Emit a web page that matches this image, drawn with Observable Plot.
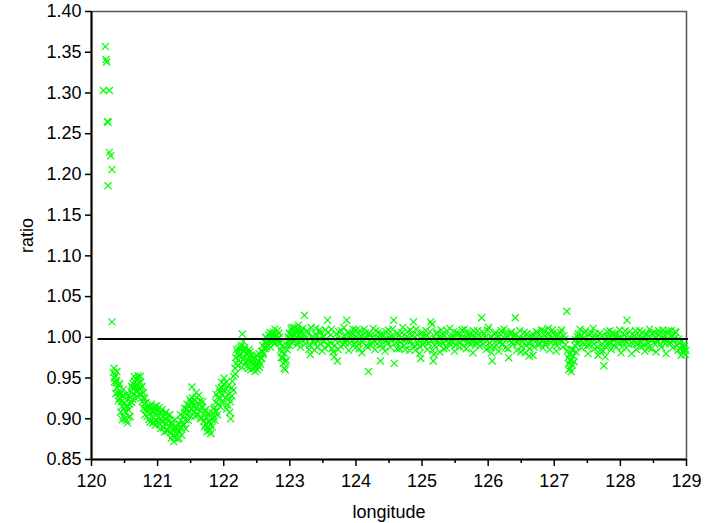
<!DOCTYPE html>
<html>
<head>
<meta charset="utf-8">
<script src="https://cdn.jsdelivr.net/npm/d3@7"></script>
<script src="https://cdn.jsdelivr.net/npm/@observablehq/plot@0.6"></script>
<style>
  html, body { margin: 0; padding: 0; background: #fff; }
  #chart { width: 717px; height: 523px; }
</style>
</head>
<body>
<div id="chart"></div>
<script>
// ---- data (longitude, ratio) ----
const spikePts = [
  [120.21,1.357],[120.22,1.341],[120.23,1.338],[120.18,1.303],[120.27,1.303],
  [120.24,1.265],[120.25,1.264],[120.27,1.227],[120.29,1.223],[120.31,1.206],
  [120.25,1.186],[120.31,1.019]
];
const troughPts = [
  [120.33,0.957],[120.34,0.962],[120.35,0.950],[120.36,0.953],[120.37,0.944],[120.38,0.947],[120.39,0.938],[120.40,0.932],
  [120.41,0.941],[120.42,0.925],[120.43,0.930],[120.44,0.908],[120.45,0.921],[120.46,0.915],[120.47,0.928],[120.48,0.903],
  [120.49,0.913],[120.50,0.920],[120.51,0.909],[120.52,0.930],[120.53,0.898],[120.54,0.916],[120.55,0.924],[120.56,0.911],
  [120.57,0.902],[120.58,0.918],[120.59,0.926],[120.60,0.933],[120.61,0.920],[120.62,0.938],[120.63,0.943],[120.64,0.930],
  [120.65,0.946],[120.66,0.939],[120.67,0.934],[120.68,0.948],[120.69,0.942],[120.70,0.927],[120.71,0.950],[120.72,0.944],
  [120.73,0.936],[120.74,0.952],[120.75,0.938],[120.76,0.930],[120.77,0.921],[120.78,0.926],[120.79,0.913],[120.80,0.918],
  [120.81,0.905],[120.82,0.911],[120.84,0.903],[120.85,0.909],[120.87,0.899],[120.88,0.907],[120.90,0.912],[120.91,0.902],
  [120.93,0.908],[120.94,0.896],[120.96,0.915],[120.97,0.904],[120.99,0.898],[121.00,0.910],[121.02,0.903],[121.03,0.893],
  [121.05,0.908],[121.06,0.897],[121.08,0.902],[121.09,0.889],[121.11,0.906],[121.12,0.894],[121.14,0.899],[121.15,0.886],
  [121.17,0.904],[121.18,0.891],[121.20,0.883],[121.21,0.896],[121.23,0.880],[121.24,0.889],[121.26,0.877],[121.27,0.887],
  [121.29,0.882],[121.30,0.875],[121.32,0.893],[121.33,0.884],[121.35,0.898],[121.36,0.889],[121.38,0.903],[121.39,0.894],
  [121.41,0.908],[121.42,0.899],[121.44,0.912],[121.45,0.905],[121.47,0.916],[121.48,0.909],[121.50,0.921],[121.51,0.912],
  [121.52,0.939],[121.53,0.918],[121.55,0.908],[121.56,0.923],[121.58,0.913],[121.59,0.926],[121.61,0.905],[121.62,0.919],
  [121.64,0.910],[121.65,0.922],[121.67,0.901],[121.68,0.914],[121.70,0.897],[121.71,0.908],[121.73,0.893],[121.74,0.902],
  [121.76,0.889],[121.77,0.897],[121.79,0.886],[121.80,0.893],[121.82,0.899],[121.83,0.907],[121.85,0.902],[121.86,0.914],
  [121.88,0.920],[121.89,0.909],[121.91,0.926],[121.92,0.918],[121.94,0.933],[121.95,0.925],[121.97,0.938],[121.98,0.929],
  [122.00,0.942],[122.01,0.934],[122.03,0.926],[122.04,0.945],[122.06,0.917],[122.07,0.930],[122.09,0.908],[122.10,0.921],
  [122.12,0.938],[122.13,0.946],[122.15,0.952]
];
const troughExtra = [
  [120.345,0.945],[120.365,0.931],[120.385,0.958],[120.405,0.922],[120.425,0.943],[120.445,0.932],[120.465,0.899],[120.485,0.936],
  [120.505,0.900],[120.525,0.915],[120.545,0.895],[120.565,0.928],[120.585,0.903],[120.605,0.940],[120.625,0.924],[120.645,0.952],
  [120.665,0.925],[120.685,0.935],[120.705,0.953],[120.725,0.930],[120.745,0.945],[120.765,0.940],[120.785,0.932],[120.805,0.925],
  [120.825,0.920],[120.845,0.915],[120.865,0.913],[120.885,0.896],[120.905,0.918],[120.925,0.895],[120.945,0.911],[120.965,0.892],
  [120.985,0.916],[121.005,0.896],[121.025,0.914],[121.045,0.888],[121.065,0.911],[121.085,0.897],[121.105,0.884],[121.125,0.908],
  [121.145,0.885],[121.165,0.897],[121.185,0.905],[121.205,0.876],[121.225,0.893],[121.245,0.872],[121.265,0.899],[121.285,0.890],
  [121.305,0.887],[121.325,0.876],[121.345,0.905],[121.365,0.880],[121.385,0.892],[121.405,0.913],[121.425,0.888],[121.445,0.918],
  [121.465,0.898],[121.485,0.924],[121.505,0.903],[121.525,0.926],[121.545,0.916],[121.565,0.903],[121.585,0.932],[121.605,0.915],
  [121.625,0.929],[121.645,0.900],[121.665,0.915],[121.685,0.921],[121.705,0.890],[121.725,0.911],[121.745,0.884],[121.765,0.906],
  [121.785,0.897],[121.805,0.882],[121.825,0.890],[121.845,0.912],[121.865,0.898],[121.885,0.930],[121.905,0.905],[121.925,0.937],
  [121.945,0.915],[121.965,0.945],[121.985,0.920],[122.005,0.950],[122.025,0.937],[122.045,0.912],[122.065,0.940],[122.085,0.925],
  [122.105,0.900],[122.125,0.928],[122.145,0.935]
];
const risePts = [
  [122.17,0.962],[122.18,0.975],[122.19,0.968],[122.21,0.981],[122.22,0.972],[122.23,0.986],[122.24,0.977],[122.26,0.969],
  [122.27,0.990],[122.28,1.004],[122.29,0.983],[122.31,0.975],[122.32,0.988],[122.33,0.970],[122.35,0.980],[122.36,0.965],
  [122.38,0.985],[122.39,0.972],[122.41,0.960],[122.42,0.978],[122.44,0.967],[122.45,0.962],[122.47,0.974],[122.48,0.964],
  [122.50,0.968],[122.51,0.960],[122.53,0.971],[122.54,0.963],[122.56,0.975],[122.57,0.983],[122.59,0.990],[122.60,0.979],
  [122.62,0.994],[122.63,0.986],[122.65,0.999],[122.66,0.992],[122.68,1.003],[122.69,0.995],[122.71,0.988],[122.72,1.001],
  [122.74,0.996],[122.75,1.006],[122.77,0.992],[122.78,1.002],[122.80,0.997],[122.81,1.008],[122.83,0.994],[122.84,1.000],
  [122.86,0.985],[122.87,0.975],[122.89,0.990],[122.90,0.968],[122.92,0.980],[122.93,0.960],[122.95,0.972],[122.96,0.985],
  [122.98,0.995],[122.99,1.005],[123.01,0.998],[123.02,1.010],[123.04,0.993],[123.05,1.003],[123.07,1.012],[123.08,0.997],
  [123.10,1.006],[123.11,0.991],[123.13,1.015],[123.14,1.002],[123.16,0.988],[123.17,1.009],[123.19,0.996]
];
const riseExtra = [
  [122.175,0.955],[122.195,0.985],[122.215,0.965],[122.235,0.978],[122.255,0.988],[122.275,0.963],[122.295,0.995],[122.315,0.985],
  [122.335,0.980],[122.355,0.972],[122.375,0.962],[122.395,0.982],[122.415,0.970],[122.435,0.975],[122.455,0.969],[122.475,0.958],
  [122.495,0.978],[122.515,0.966],[122.535,0.980],[122.555,0.967],[122.575,0.974],[122.595,0.982],[122.615,0.987],[122.635,1.000],
  [122.655,0.988],[122.675,0.996],[122.695,1.006],[122.715,0.998],[122.735,1.004],[122.755,0.995],[122.775,1.010],[122.795,1.003],
  [122.815,0.998],[122.835,1.005],[122.855,0.993],[122.875,0.982],[122.895,0.975],[122.915,0.962],[122.935,0.970],[122.955,0.990],
  [122.975,1.000],[122.995,0.990],[123.015,1.004],[123.035,1.012],[123.055,0.996],[123.075,1.003],[123.095,0.999],[123.115,1.010],
  [123.135,0.995],[123.155,1.005],[123.175,0.999],[123.195,1.011]
];
const plateauPts = [
  [123.21,1.004],[123.22,1.027],[123.24,0.992],[123.26,1.008],[123.29,0.985],[123.31,0.979],[123.34,1.001],[123.36,0.994],
  [123.39,1.011],[123.41,0.988],[123.44,0.998],[123.46,1.006],[123.49,0.983],[123.51,0.995],[123.54,1.009],[123.57,1.021],
  [123.59,0.990],[123.62,1.003],[123.64,0.986],[123.67,0.976],[123.69,0.997],[123.72,0.971],[123.74,1.007],[123.77,0.989],
  [123.79,0.999],[123.82,1.012],[123.84,0.993],[123.86,1.021],[123.89,0.984],[123.91,1.004],[123.94,0.996],[123.96,1.010],
  [123.99,0.987],[124.01,1.001],[124.04,0.992],[124.06,1.008],[124.09,0.981],[124.11,0.998],[124.14,1.005],[124.16,0.990],
  [124.19,0.958],[124.21,1.002],[124.24,0.994],[124.26,1.011],[124.29,0.985],[124.31,0.999],[124.34,1.006],[124.37,0.971],
  [124.39,0.991],[124.42,1.003],[124.44,0.983],[124.47,0.996],[124.49,1.009],[124.52,0.988],[124.54,1.001],[124.57,1.021],
  [124.58,0.968],[124.61,0.993],[124.63,1.005],[124.66,0.986],[124.68,0.999],[124.71,1.012],[124.73,0.990],[124.76,0.997],
  [124.78,1.007],[124.81,0.984],[124.83,0.995],[124.86,1.003],[124.87,1.019],[124.89,0.989],[124.91,1.010],[124.94,0.992],
  [124.96,0.980],[124.98,0.974],[125.01,1.001],[125.03,0.994],[125.06,1.008],[125.08,0.985],[125.11,0.999],[125.13,1.019],
  [125.15,1.016],[125.17,0.971],[125.19,0.990],[125.22,1.004],[125.24,0.996],[125.27,0.982],[125.29,1.009],[125.32,0.993],
  [125.34,1.002],[125.37,0.987],[125.39,0.998],[125.42,1.011],[125.44,0.991],[125.47,1.000],[125.49,0.983],[125.52,1.006],
  [125.54,0.995],[125.57,0.988],[125.59,1.003],[125.62,0.997],[125.64,1.010],[125.67,0.986],[125.69,0.999],[125.72,1.005],
  [125.74,0.992],[125.77,0.981],[125.79,1.001],[125.82,0.994],[125.84,1.008],[125.87,0.989],[125.90,1.024],[125.92,0.997],
  [125.94,1.004],[125.97,0.985],[125.99,1.009],[126.02,0.993],[126.04,1.001],[126.06,0.971],[126.09,0.988],[126.11,1.006],
  [126.14,0.996],[126.16,0.983],[126.19,1.003],[126.21,0.991],[126.24,1.010],[126.26,0.987],[126.29,0.999],[126.31,0.975],
  [126.34,1.005],[126.36,0.994],[126.39,1.002],[126.41,1.024],[126.43,0.984],[126.46,0.997],[126.48,1.008],[126.51,0.989],
  [126.53,0.999],[126.56,0.981],[126.58,1.004],[126.61,0.993],[126.63,0.986],[126.66,1.001],[126.68,0.978],[126.71,0.995],
  [126.73,1.007],[126.76,0.990],[126.78,0.998],[126.81,1.009],[126.83,0.987],[126.86,1.002],[126.88,0.994],[126.91,1.011],
  [126.93,0.985],[126.96,0.999],[126.98,1.005],[127.01,0.992],[127.03,0.983],[127.06,1.003],[127.08,0.996],[127.11,1.009],
  [127.13,0.988],[127.16,0.998],[127.19,1.032],[127.20,0.984],[127.21,0.975],[127.22,0.968],[127.23,0.979],[127.24,0.962],
  [127.25,0.971],[127.26,0.985],[127.27,0.966],[127.29,0.977],[127.31,0.990],[127.33,0.982],[127.35,1.001],[127.37,0.994],
  [127.39,1.010],[127.41,0.987],[127.44,0.999],[127.46,1.006],[127.49,0.989],[127.51,0.980],[127.54,1.003],[127.56,0.995],
  [127.59,1.011],[127.61,0.986],[127.64,0.999],[127.66,0.978],[127.69,1.005],[127.71,0.990],[127.74,0.983],[127.75,0.965],
  [127.77,0.976],[127.79,1.001],[127.81,0.993],[127.84,1.008],[127.86,0.985],[127.89,0.997],[127.91,1.004],[127.94,0.988],
  [127.96,0.999],[127.99,1.009],[128.01,0.981],[128.04,0.994],[128.06,1.003],[128.09,0.987],[128.10,1.021],[128.12,0.998],
  [128.14,1.007],[128.17,0.980],[128.19,0.992],[128.22,1.002],[128.24,0.985],[128.27,0.996],[128.29,1.008],[128.32,0.989],
  [128.34,0.999],[128.37,0.983],[128.39,1.004],[128.42,0.993],[128.44,1.010],[128.47,0.986],[128.49,0.997],[128.52,1.006],
  [128.54,0.982],[128.57,0.995],[128.59,1.003],[128.62,0.988],[128.64,1.009],[128.67,0.998],[128.69,0.980],[128.72,1.005],
  [128.74,0.992],[128.77,1.008],[128.79,0.987],[128.82,0.999],[128.84,1.006],[128.87,0.984],[128.89,0.993],[128.92,0.978],
  [128.94,0.990],[128.96,0.985],[128.98,0.979]
];
const plateauExtra = [
  [123.235,0.998],[123.275,1.005],[123.300,0.990],[123.325,1.012],[123.350,0.996],[123.375,0.984],[123.400,1.003],[123.425,0.995],
  [123.450,1.009],[123.475,0.992],[123.500,1.001],[123.525,0.987],[123.550,0.998],[123.580,1.006],[123.605,0.994],[123.630,1.010],
  [123.655,0.982],[123.680,0.990],[123.705,1.004],[123.730,0.985],[123.755,0.996],[123.780,1.008],[123.805,0.991],[123.830,1.001],
  [123.855,0.997],[123.875,1.006],[123.900,0.993],[123.925,0.999],[123.950,1.004],[123.975,0.991],[124.000,1.009],[124.025,0.996],
  [124.050,0.986],[124.075,1.002],[124.100,0.994],[124.125,1.010],[124.150,0.999],[124.175,0.988],[124.200,1.005],[124.225,0.990],
  [124.250,1.000],[124.275,0.995],[124.300,1.008],[124.325,0.992],[124.350,0.999],[124.380,1.004],[124.405,0.987],[124.430,0.997],
  [124.455,1.007],[124.480,0.993],[124.505,1.000],[124.530,0.996],[124.555,1.010],[124.595,0.998],[124.620,0.986],[124.645,1.002],
  [124.670,0.994],[124.695,1.006],[124.720,0.997],[124.745,0.985],[124.770,1.001],[124.795,0.995],[124.820,1.009],[124.845,0.991],
  [124.875,0.999],[124.900,0.984],[124.925,1.003],[124.950,0.996],[124.970,0.988],[124.995,1.006],[125.020,0.991],[125.045,0.999],
  [125.070,1.002],[125.095,0.993],[125.120,1.007],[125.140,0.995],[125.160,0.984],[125.180,0.979],[125.205,0.997],[125.230,1.006],
  [125.255,0.991],[125.280,0.999],[125.305,1.004],[125.330,0.986],[125.355,0.996],[125.380,1.008],[125.405,0.993],[125.430,1.000],
  [125.455,0.995],[125.480,1.007],[125.505,0.990],[125.530,0.998],[125.555,1.004],[125.580,0.994],[125.605,1.009],[125.630,0.989],
  [125.655,0.999],[125.680,1.006],[125.705,0.993],[125.730,1.000],[125.755,0.996],[125.780,1.008],[125.805,0.990],[125.830,0.998],
  [125.855,1.003],[125.880,0.995],[125.910,1.007],[125.930,0.992],[125.955,1.000],[125.980,0.996],[126.005,1.012],[126.030,0.988],
  [126.050,0.981],[126.075,0.997],[126.100,1.004],[126.125,0.990],[126.150,1.000],[126.175,0.995],[126.200,1.008],[126.225,0.992],
  [126.250,0.999],[126.275,1.004],[126.300,0.986],[126.325,0.996],[126.350,1.007],[126.375,0.991],[126.400,0.998],[126.420,1.003],
  [126.445,0.993],[126.470,1.000],[126.495,0.982],[126.520,0.995],[126.545,1.006],[126.570,0.990],[126.595,0.999],[126.620,0.977],
  [126.645,0.994],[126.670,1.004],[126.695,0.988],[126.720,0.999],[126.745,1.006],[126.770,0.993],[126.795,1.000],[126.820,0.995],
  [126.845,1.008],[126.870,0.991],[126.895,0.998],[126.920,1.004],[126.945,0.994],[126.970,1.009],[126.995,0.997],[127.020,1.003],
  [127.045,0.990],[127.070,0.999],[127.095,1.006],[127.120,0.995],[127.145,1.002],[127.170,0.991],[127.215,0.960],[127.235,0.972],
  [127.255,0.958],[127.280,0.985],[127.300,0.970],[127.320,0.997],[127.345,0.992],[127.360,1.004],[127.380,0.998],[127.405,1.001],
  [127.430,0.993],[127.455,0.999],[127.475,1.008],[127.500,0.995],[127.525,0.990],[127.550,1.006],[127.575,0.999],[127.600,0.992],
  [127.625,1.004],[127.650,0.988],[127.675,0.996],[127.700,0.984],[127.725,1.002],[127.760,0.995],[127.780,0.988],[127.800,1.007],
  [127.825,0.999],[127.850,0.993],[127.875,1.005],[127.900,0.990],[127.925,0.998],[127.950,1.003],[127.975,0.994],[128.000,1.000],
  [128.025,0.988],[128.050,0.997],[128.075,1.008],[128.095,0.995],[128.130,0.991],[128.155,0.999],[128.180,1.004],[128.205,0.996],
  [128.230,1.008],[128.255,0.992],[128.280,1.001],[128.305,0.994],[128.330,1.006],[128.355,0.990],[128.380,0.998],[128.405,1.003],
  [128.430,0.987],[128.455,0.999],[128.480,1.005],[128.505,0.993],[128.530,1.000],[128.555,0.996],[128.580,1.008],[128.605,0.991],
  [128.630,0.999],[128.655,1.004],[128.680,0.992],[128.705,0.997],[128.730,1.008],[128.755,0.994],[128.780,1.001],[128.805,0.996],
  [128.830,1.007],[128.855,0.990],[128.880,0.998],[128.905,0.986],[128.930,0.995],[128.950,0.982],[128.970,0.989],[128.990,0.984]
];
const refRatio = 0.998;
const xTicks = [120,121,122,123,124,125,126,127,128,129];
const xMinorTicks = [120.5,121.5,122.5,123.5,124.5,125.5,126.5,127.5,128.5];
const yTicks = [0.85,0.90,0.95,1.00,1.05,1.10,1.15,1.20,1.25,1.30,1.35,1.40];

const points = [...spikePts, ...troughPts, ...troughExtra, ...risePts, ...riseExtra, ...plateauPts, ...plateauExtra]
  .map(([lon, ratio]) => ({lon, ratio}));

const chart = Plot.plot({
  width: 717,
  height: 523,
  marginLeft: 91,
  marginRight: 31,
  marginTop: 11,
  marginBottom: 64,
  style: {fontFamily: "'Liberation Sans', Arial, sans-serif", fontSize: "18px", background: "#fff", color: "#000"},
  x: {domain: [120, 129]},
  y: {domain: [0.85, 1.40]},
  marks: [
    Plot.frame({stroke: "#555", strokeWidth: 1.5}),
    Plot.dot(points, {x: "lon", y: "ratio", symbol: "times", r: 3.3, stroke: "#00ff00", strokeWidth: 1.2}),
    Plot.ruleY([refRatio], {x1: 120.1, x2: 129.03, stroke: "#000", strokeWidth: 2}),
    Plot.ruleX([120], {stroke: "#000", strokeWidth: 2}),
    Plot.ruleY([0.85], {stroke: "#000", strokeWidth: 2}),
    Plot.axisX({ticks: xMinorTicks, tickSize: 4, tickFormat: () => "", label: null, strokeWidth: 1.5}),
    Plot.axisX({ticks: xTicks, tickSize: 7, tickPadding: 8, tickFormat: d => String(d), strokeWidth: 1.5,
      label: "longitude", labelAnchor: "center", labelArrow: "none", labelOffset: 58}),
    Plot.axisY({ticks: yTicks, tickSize: 6, tickPadding: 4, tickFormat: d => d.toFixed(2), strokeWidth: 1.5,
      label: "ratio", labelAnchor: "center", labelArrow: "none", labelOffset: 71})
  ]
});
document.getElementById("chart").appendChild(chart);
</script>
</body>
</html>
